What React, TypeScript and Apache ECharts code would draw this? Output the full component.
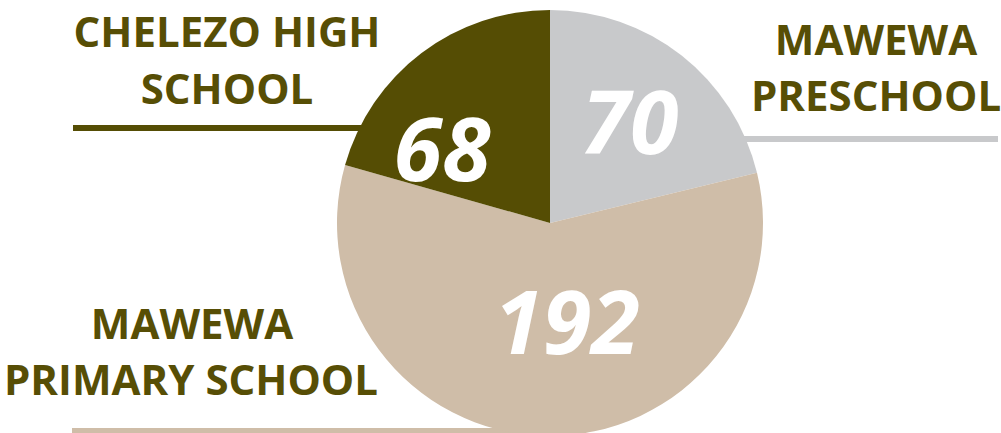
import React, { useEffect, useRef } from "react";
import * as echarts from "echarts";

const categories = ["MAWEWA PRESCHOOL", "MAWEWA PRIMARY SCHOOL", "CHELEZO HIGH SCHOOL"];
const values = [70, 192, 68];
const sliceColors = ["#c8c9cb", "#cfbda8", "#554d04"];
const labelLines = [
  ["MAWEWA", "PRESCHOOL"],
  ["MAWEWA", "PRIMARY SCHOOL"],
  ["CHELEZO HIGH", "SCHOOL"],
];

export default function App() {
  const ref = useRef<HTMLDivElement>(null);
  useEffect(() => {
    if (!ref.current) return;
    const chart = echarts.init(ref.current, null, { renderer: "svg" });
    const textColor = "#574e05";
    const font = "'Open Sans', sans-serif";
    const textPos = [
      [[876, 38], [876, 94]],
      [[192, 322], [191, 378]],
      [[227, 30], [227, 87]],
    ];
    const rules = [
      { x1: 700, x2: 998, y: 139 },
      { x1: 72, x2: 560, y: 431 },
      { x1: 73, x2: 400, y: 128 },
    ];
    const graphics: any[] = [];
    labelLines.forEach((lines, i) => {
      lines.forEach((t, j) => {
        graphics.push({
          type: "text",
          x: textPos[i][j][0],
          y: textPos[i][j][1],
          z: 0,
          style: {
            text: t,
            fill: textColor,
            font: `bold 42px ${font}`,
            textAlign: "center",
            textVerticalAlign: "middle",
          },
        });
      });
      graphics.push({
        type: "line",
        z: 0,
        shape: { x1: rules[i].x1, y1: rules[i].y, x2: rules[i].x2, y2: rules[i].y },
        style: { stroke: sliceColors[i], lineWidth: 6 },
      });
    });
    const valuePos = [
      [630, 120],
      [567, 320],
      [442, 147],
    ];
    chart.setOption({
      animation: false,
      graphic: { elements: graphics },
      series: [
        {
          type: "pie",
          z: 5,
          center: [550, 223],
          radius: 213,
          startAngle: 90,
          clockwise: true,
          silent: true,
          data: categories.map((c, i) => ({
            name: c,
            value: values[i],
            itemStyle: { color: sliceColors[i] },
          })),
          label: {
            show: true,
            position: "inside",
            formatter: "{c}",
            color: "#ffffff",
            fontFamily: font,
            fontStyle: "italic",
            fontWeight: "bold",
            fontSize: 88,
          },
          labelLine: { show: false },
          labelLayout: (p: any) => ({
            x: valuePos[p.dataIndex][0],
            y: valuePos[p.dataIndex][1],
            align: "center",
            verticalAlign: "middle",
          }),
        },
      ],
    });
    return () => chart.dispose();
  }, []);
  return (
    <div
      ref={ref}
      style={{ position: "fixed", left: 0, top: 0, width: 1001, height: 433, background: "#fff" }}
    />
  );
}
